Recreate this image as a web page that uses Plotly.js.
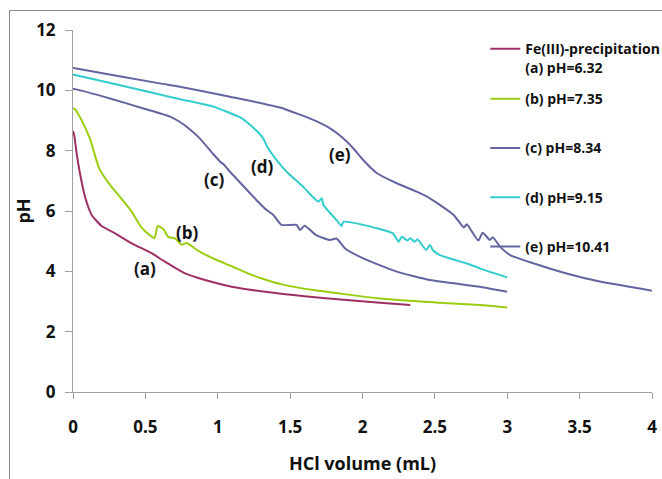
<!DOCTYPE html>
<html>
<head>
<meta charset="utf-8">
<script src="https://cdn.plot.ly/plotly-3.0.1.min.js"></script>
<style>
  html, body { margin: 0; padding: 0; background: #fff; }
  #wrap { position: relative; width: 662px; height: 479px; overflow: hidden; }
  #chart { position: absolute; left: 0; top: 0; width: 662px; height: 479px; }
  #frame { position: absolute; left: 9px; top: 10px; width: 700px; height: 520px;
           border-left: 1px solid #8a8a8a; border-top: 1px solid #8a8a8a; pointer-events: none; }
</style>
</head>
<body>
<div id="wrap"><div id="chart"></div><div id="frame"></div></div>
<script>
// ---- data (HCl volume in mL, pH) ----
const aX = [0, 0.009, 0.025, 0.048, 0.083, 0.129, 0.198, 0.29, 0.405, 0.543, 0.635, 0.774, 0.912, 1.096, 1.326, 1.6, 1.89, 2.1, 2.33];
const aY = [8.65, 8.5, 7.91, 7.25, 6.47, 5.87, 5.5, 5.26, 4.93, 4.6, 4.32, 3.93, 3.71, 3.49, 3.32, 3.17, 3.05, 2.97, 2.88];

const bX = [0, 0.014, 0.06, 0.117, 0.18, 0.25, 0.336, 0.405, 0.474, 0.562, 0.585, 0.624, 0.658, 0.705, 0.751, 0.785, 0.866, 0.981, 1.096, 1.2, 1.3, 1.45, 1.66, 2.12, 2.5, 2.81, 3.0];
const bY = [9.4, 9.37, 9.0, 8.4, 7.42, 6.9, 6.4, 5.98, 5.45, 5.1, 5.5, 5.4, 5.14, 5.09, 4.88, 4.94, 4.68, 4.4, 4.17, 3.95, 3.77, 3.56, 3.38, 3.1, 2.97, 2.88, 2.8];

const cX = [0, 0.014, 0.256, 0.486, 0.67, 0.739, 0.785, 0.877, 0.97, 1.02, 1.04, 1.085, 1.223, 1.29, 1.338, 1.384, 1.44, 1.545, 1.568, 1.6, 1.68, 1.775, 1.82, 1.88, 2.005, 2.236, 2.466, 2.81, 3.0];
const cY = [10.05, 10.04, 9.73, 9.4, 9.13, 8.95, 8.79, 8.4, 7.88, 7.62, 7.55, 7.3, 6.59, 6.25, 6.03, 5.87, 5.54, 5.54, 5.37, 5.51, 5.2, 5.04, 5.09, 4.76, 4.43, 3.99, 3.71, 3.49, 3.32];

const dX = [0, 0.014, 0.37, 0.716, 0.97, 1.155, 1.2, 1.27, 1.315, 1.34, 1.407, 1.476, 1.59, 1.695, 1.718, 1.73, 1.82, 1.856, 1.867, 2.005, 2.21, 2.25, 2.27, 2.31, 2.33, 2.36, 2.38, 2.44, 2.465, 2.49, 2.535, 2.72, 2.81, 3.0];
const dY = [10.52, 10.51, 10.12, 9.73, 9.46, 9.1, 8.95, 8.65, 8.4, 8.15, 7.69, 7.3, 6.8, 6.31, 6.42, 6.2, 5.7, 5.5, 5.64, 5.54, 5.26, 4.98, 5.15, 5.02, 5.1, 4.98, 5.06, 4.71, 4.87, 4.68, 4.54, 4.26, 4.1, 3.8];

const eX = [0, 0.014, 0.6, 0.739, 1.085, 1.43, 1.66, 1.776, 1.867, 1.936, 2.005, 2.1, 2.236, 2.374, 2.466, 2.63, 2.7, 2.72, 2.8, 2.83, 2.88, 2.9, 2.95, 3.02, 3.18, 3.41, 3.64, 4.0];
const eY = [10.75, 10.73, 10.23, 10.12, 9.79, 9.43, 9.02, 8.74, 8.41, 8.08, 7.69, 7.25, 6.92, 6.64, 6.42, 5.87, 5.45, 5.56, 5.02, 5.28, 5.04, 5.13, 4.82, 4.54, 4.27, 3.93, 3.66, 3.36];

const seriesNames = ["Fe(III)-precipitation<br>(a) pH=6.32", "(b) pH=7.35", "(c) pH=8.34", "(d) pH=9.15", "(e) pH=10.41"];
const seriesColors = ["#9E2F65", "#9ACD12", "#6464A0", "#33CCCC", "#6464A0"];
const seriesLegends = ["legend", "legend2", "legend2", "legend2", "legend2"];
const curveLabels = ["(a)", "(b)", "(c)", "(d)", "(e)"];
const labelX = [0.497, 0.794, 0.98, 1.31, 1.845];
const labelY = [4.11, 5.3, 7.03, 7.46, 7.86];

const xTickVals = [0, 0.5, 1, 1.5, 2, 2.5, 3, 3.5, 4];
const yTickVals = [0, 2, 4, 6, 8, 10, 12];

const xs = [aX, bX, cX, dX, eX];
const ys = [aY, bY, cY, dY, eY];

const FONT = "'Open Sans', sans-serif";

const traces = xs.map((x, i) => ({
  type: "scatter", mode: "lines", x: x, y: ys[i],
  name: seriesNames[i], legendgroup: "g" + i, legend: seriesLegends[i],
  line: { color: seriesColors[i], width: 2, shape: "spline", smoothing: 0.5 }
}));

const annotations = curveLabels.map((t, i) => ({
  x: labelX[i], y: labelY[i], xref: "x", yref: "y", text: t, showarrow: false,
  font: { family: FONT, size: 17, color: "#111", weight: 700 }
}));

const axisCommon = {
  showgrid: false, zeroline: false, showline: true, linecolor: "#a0a0a0", linewidth: 1,
  ticks: "outside", tickcolor: "#a0a0a0", ticklen: 6,
  tickfont: { family: FONT, size: 17, color: "#111", weight: 700 }
};

const legendFont = { family: FONT, size: 14, color: "#111", weight: 700 };

const layout = {
  width: 662, height: 479,
  margin: { l: 73, r: 10, t: 30, b: 87, autoexpand: false },
  paper_bgcolor: "rgba(0,0,0,0)", plot_bgcolor: "rgba(0,0,0,0)",
  showlegend: true,
  legend: {
    x: 0.712, y: 0.991, xanchor: "left", yanchor: "top", valign: "top",
    bgcolor: "rgba(0,0,0,0)", font: legendFont
  },
  legend2: {
    x: 0.712, y: 0.853, xanchor: "left", yanchor: "top",
    tracegroupgap: 28, bgcolor: "rgba(0,0,0,0)", font: legendFont
  },
  xaxis: Object.assign({}, axisCommon, {
    range: [0, 4], tickvals: xTickVals, ticktext: xTickVals.map(String),
    ticklabelstandoff: 14, automargin: false,
    title: { text: "HCl volume (mL)", standoff: 19, font: { family: FONT, size: 18, color: "#111", weight: 700 } }
  }),
  yaxis: Object.assign({}, axisCommon, {
    range: [0, 12], tickvals: yTickVals, ticktext: yTickVals.map(String),
    ticklen: 7, ticklabelstandoff: 6, automargin: false,
    title: { text: "pH", standoff: 0, font: { family: FONT, size: 18, color: "#111", weight: 700 } }
  }),
  annotations: annotations
};

Plotly.newPlot("chart", traces, layout, { displayModeBar: false, staticPlot: true });
</script>
</body>
</html>
